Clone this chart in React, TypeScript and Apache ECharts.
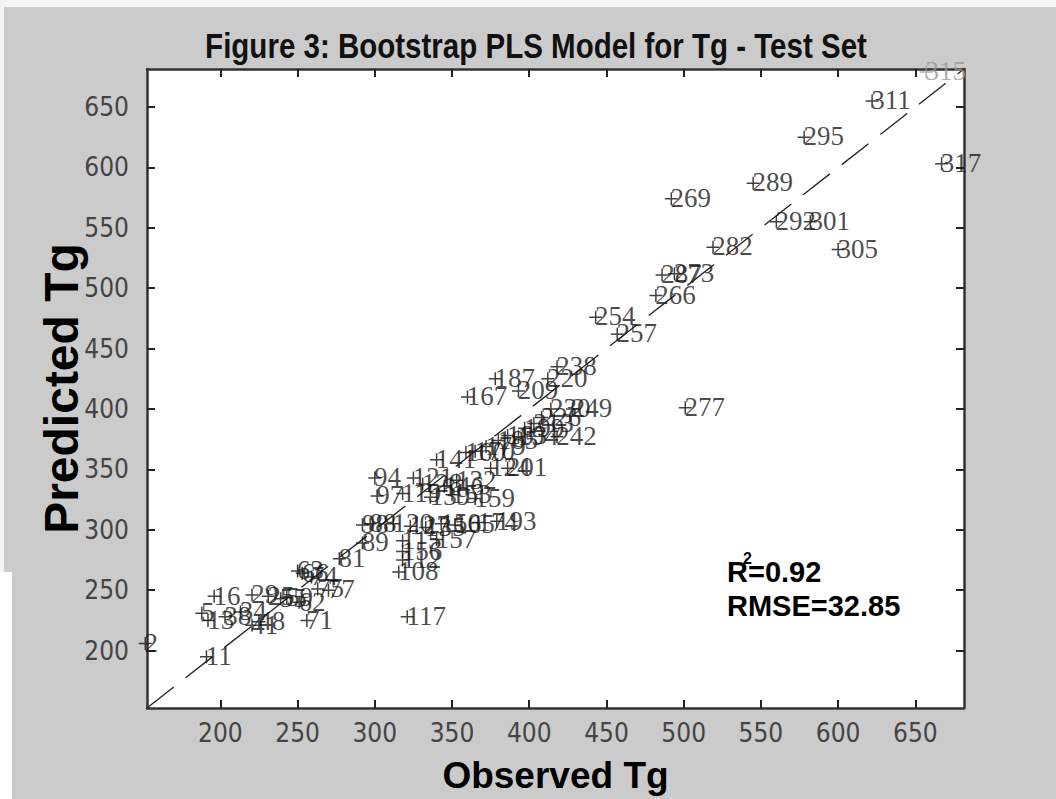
import React, { useEffect, useRef } from "react";
import * as echarts from "echarts";

// Sample IDs with observed and predicted Tg (test set)
const sampleIds = [
  315, 311, 295, 289, 269, 292, 301, 305, 282, 287, 273, 266, 254, 257, 317, 277,
  238, 220, 187, 167, 209, 230, 249, 226, 213, 199, 242, 194, 183, 185, 179, 170, 160, 141, 201, 124,
  94, 121, 132, 128, 146, 97, 119, 139, 153, 159, 98, 88, 120, 127, 135, 150, 165, 174, 193, 89, 115, 157, 156, 112, 108, 117, 81,
  63, 66, 74, 75, 77, 62, 59, 55, 25, 29, 16, 13, 5, 38, 34, 41, 48, 71, 11, 2,
];
const observedTg = [
  657, 622, 578, 545, 492, 560, 582, 600, 519, 486, 494, 482, 443, 457, 667, 501,
  418, 412, 378, 360, 393, 414, 428, 408, 403, 397, 418, 393, 386, 380, 372, 365, 359, 340, 386, 375,
  300, 325, 353, 331, 345, 301.5, 318, 336, 350, 365, 292, 297, 312, 323, 333, 343, 352, 367, 379, 292, 318, 340, 318, 318, 315.5, 321, 277,
  250, 253, 259, 263, 270, 251, 243, 239, 231, 220.5, 196, 192, 188, 203, 213, 220.5, 225, 256, 191, 151.4,
];
const predictedTg = [
  679, 655, 625, 587, 574, 555, 555, 532, 534, 511, 512, 494, 476, 462, 603, 401,
  435, 425, 425, 410, 415, 400, 400, 393, 388, 384, 377, 377, 378, 374, 369, 365, 364, 358, 351, 351,
  343, 343, 341, 338, 336, 328, 330, 327, 329, 326, 304, 305, 305, 303, 302, 305, 304, 306, 307, 289, 291, 292, 282, 275, 265, 228, 276,
  266, 264, 261, 251, 250, 240, 244, 243, 245, 246, 245, 225, 231, 228, 232, 221, 224, 225, 195, 206,
];
const tickValues = [200, 250, 300, 350, 400, 450, 500, 550, 600, 650];
const axisMin = 152.5;
const axisMax = 681.5;
const fadedIds = [315];

const titleText = "Figure 3: Bootstrap PLS Model for Tg - Test Set";
const xName = "Observed Tg";
const yName = "Predicted Tg";
const r2Value = "0.92";
const rmseValue = "32.85";

const narrow = "'Liberation Sans Narrow', 'DejaVu Sans Condensed', 'Arial Narrow', 'Liberation Sans', sans-serif";
const arial = "'Liberation Sans', Arial, sans-serif";

export default function App() {
  const ref = useRef<HTMLDivElement>(null);
  useEffect(() => {
    if (!ref.current) return;
    const chart = echarts.init(ref.current, undefined, { renderer: "svg" });
    const points = sampleIds.map((id, i) => ({
      value: [observedTg[i], predictedTg[i], id],
      label: fadedIds.includes(id) ? { color: "#9a9a9a" } : undefined,
      itemStyle: fadedIds.includes(id) ? { borderColor: "#9a9a9a" } : undefined,
    }));
    const commonTick = {
      show: true,
      inside: true,
      length: 8,
      customValues: tickValues,
      lineStyle: { color: "#222", width: 2 },
    };
    const axisLine = { show: true, lineStyle: { color: "#333", width: 2.5 } };
    chart.setOption({
      animation: false,
      backgroundColor: "#cbcbcb",
      grid: {
        left: 147,
        top: 69,
        right: 92,
        bottom: 85,
        show: true,
        backgroundColor: "#ffffff",
        borderWidth: 0,
      },
      xAxis: [
        {
          type: "value",
          min: axisMin,
          max: axisMax,
          position: "bottom",
          name: xName,
          nameLocation: "middle",
          nameGap: 49,
          nameTextStyle: { fontFamily: arial, fontWeight: "bold", fontSize: 37, color: "#000" },
          axisLine,
          axisTick: commonTick,
          splitLine: { show: false },
          axisLabel: {
            customValues: tickValues,
            margin: 12,
            fontFamily: narrow,
            fontSize: 26,
            color: "#444",
          },
        },
        {
          type: "value",
          min: axisMin,
          max: axisMax,
          position: "top",
          axisLine,
          axisTick: commonTick,
          splitLine: { show: false },
          axisLabel: { show: false },
        },
      ],
      yAxis: [
        {
          type: "value",
          min: axisMin,
          max: axisMax,
          position: "left",
          name: yName,
          nameLocation: "middle",
          nameGap: 62,
          nameMoveOverlap: false,
          nameRotate: 90,
          nameTextStyle: { fontFamily: arial, fontWeight: "bold", fontSize: 48, color: "#000" },
          axisLine,
          axisTick: commonTick,
          splitLine: { show: false },
          axisLabel: {
            customValues: tickValues,
            margin: 18,
            fontFamily: narrow,
            fontSize: 26,
            color: "#444",
          },
        },
        {
          type: "value",
          min: axisMin,
          max: axisMax,
          position: "right",
          axisLine,
          axisTick: commonTick,
          splitLine: { show: false },
          axisLabel: { show: false },
        },
      ],
      graphic: [
        { type: "rect", shape: { x: 0, y: 0, width: 1056, height: 7 }, style: { fill: "#f4f4f4" }, silent: true },
        { type: "rect", shape: { x: 0, y: 0, width: 4, height: 799 }, style: { fill: "#f4f4f4" }, silent: true },
        { type: "rect", shape: { x: 0, y: 572, width: 12, height: 227 }, style: { fill: "#ffffff" }, silent: true },
        {
          type: "text",
          x: 536,
          y: 45,
          scaleX: 0.82,
          style: {
            text: titleText,
            font: "bold 36px " + arial,
            fill: "#111",
            textAlign: "center",
            textVerticalAlign: "middle",
          },
        },
        {
          type: "text",
          x: 727,
          y: 557,
          style: { text: "R", font: "bold 29px " + arial, fill: "#000" },
        },
        {
          type: "text",
          x: 743,
          y: 550,
          style: { text: "2", font: "bold 16px " + arial, fill: "#000" },
        },
        {
          type: "text",
          x: 748,
          y: 557,
          style: { text: "=" + r2Value, font: "bold 29px " + arial, fill: "#000" },
        },
        {
          type: "text",
          x: 727,
          y: 591,
          style: { text: "RMSE=" + rmseValue, font: "bold 29px " + arial, fill: "#000" },
        },
      ],
      series: [
        {
          type: "line",
          data: [
            [axisMin, axisMin],
            [axisMax, axisMax],
          ],
          symbol: "none",
          silent: true,
          lineStyle: { color: "#222", width: 1.3, type: [34, 15] },
          z: 1,
        },
        {
          type: "scatter",
          data: points,
          clip: false,
          symbol: "path://M0,6L12,6M6,0L6,12",
          symbolSize: 13,
          itemStyle: { color: "transparent", borderColor: "#111", borderWidth: 1.5 },
          label: {
            show: true,
            position: [6.5, 6.5],
            align: "left",
            verticalAlign: "middle",
            formatter: (p: any) => String(p.value[2]),
            fontFamily: "'Liberation Serif', 'Times New Roman', serif",
            fontSize: 27,
            color: "#1a1a1a",
          },
          z: 3,
        },
      ],
    });
    return () => chart.dispose();
  }, []);
  return <div ref={ref} style={{ position: "fixed", left: 0, top: 0, width: 1056, height: 799 }} />;
}
